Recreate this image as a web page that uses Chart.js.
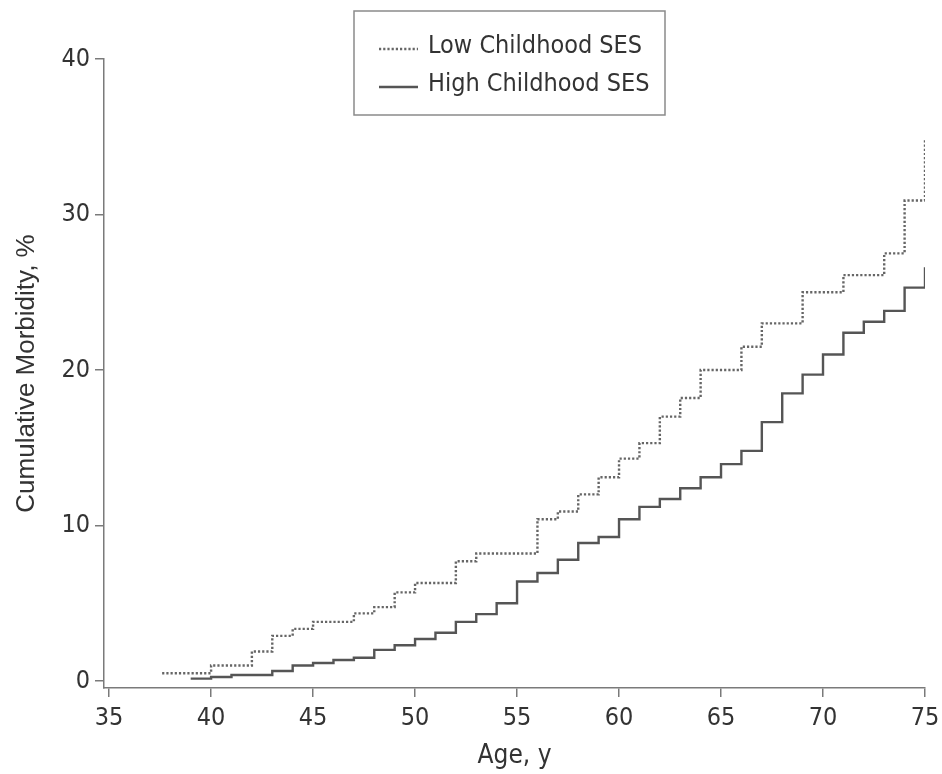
<!DOCTYPE html>
<html>
<head>
<meta charset="utf-8">
<script src="https://cdn.jsdelivr.net/npm/chart.js@4/dist/chart.umd.min.js"></script>
<style>
  html, body { margin: 0; padding: 0; background: #fff; }
  #wrap { width: 942px; height: 774px; }
</style>
</head>
<body>
<div id="wrap"><canvas id="c" width="942" height="774"></canvas></div>
<script>
// Data (age in years, cumulative morbidity in %)
const lowLabel = "Low Childhood SES";
const lowAges = [37.6, 40, 42, 43, 44, 45, 47, 48, 49, 50, 52, 53, 56, 57, 58, 59, 60, 61, 62, 63, 64, 66, 67, 69, 71, 73, 74, 75];
const lowValues = [0.5, 1.0, 1.9, 2.9, 3.35, 3.8, 4.35, 4.75, 5.7, 6.3, 7.7, 8.2, 10.4, 10.9, 12.0, 13.1, 14.3, 15.3, 17.0, 18.2, 20.0, 21.5, 23.0, 25.0, 26.1, 27.5, 30.9, 34.8];

const highLabel = "High Childhood SES";
const highAges = [39, 40, 41, 43, 44, 45, 46, 47, 48, 49, 50, 51, 52, 53, 54, 55, 56, 57, 58, 59, 60, 61, 62, 63, 64, 65, 66, 67, 68, 69, 70, 71, 72, 73, 74, 75];
const highValues = [0.15, 0.26, 0.39, 0.64, 1.0, 1.16, 1.35, 1.5, 2.0, 2.3, 2.7, 3.1, 3.8, 4.3, 5.0, 6.4, 6.95, 7.8, 8.87, 9.26, 10.4, 11.2, 11.7, 12.4, 13.1, 13.95, 14.8, 16.65, 18.5, 19.7, 21.0, 22.4, 23.1, 23.8, 25.3, 26.6];

const xTickValues = [35, 40, 45, 50, 55, 60, 65, 70, 75];
const yTickValues = [0, 10, 20, 30, 40];
const xTitle = "Age, y";
const yTitle = "Cumulative Morbidity, %";

const NARROW = "'DejaVu Sans Condensed', 'Liberation Sans Narrow', sans-serif";
const REGULAR = "'Liberation Sans', Arial, sans-serif";
const TEXT = '#333333';
const AXIS = '#7a7a7a';

const toPoints = (xs, ys) => xs.map((x, i) => ({ x: x, y: ys[i] }));

// Boxed legend drawn at the top centre, taken from the datasets
const boxLegend = {
  id: 'boxLegend',
  afterDraw(chart) {
    const ctx = chart.ctx;
    const box = { x: 354, y: 11, w: 311, h: 104 };
    ctx.save();
    ctx.fillStyle = '#fff';
    ctx.fillRect(box.x, box.y, box.w, box.h);
    ctx.strokeStyle = '#8a8a8a';
    ctx.lineWidth = 1.5;
    ctx.strokeRect(box.x, box.y, box.w, box.h);
    const rows = [46, 84];
    chart.data.datasets.forEach((ds, i) => {
      const y = rows[i];
      ctx.beginPath();
      ctx.strokeStyle = ds.borderColor;
      ctx.lineWidth = ds.borderWidth;
      ctx.setLineDash(ds.borderDash || []);
      ctx.moveTo(379, y + 3);
      ctx.lineTo(418, y + 3);
      ctx.stroke();
      ctx.setLineDash([]);
      ctx.fillStyle = TEXT;
      ctx.font = "25px " + NARROW;
      ctx.textBaseline = 'middle';
      ctx.textAlign = 'left';
      ctx.fillText(ds.label, 428, y);
    });
    ctx.restore();
  }
};

new Chart(document.getElementById('c'), {
  type: 'line',
  data: {
    datasets: [
      {
        label: lowLabel,
        data: toPoints(lowAges, lowValues),
        stepped: 'before',
        borderColor: '#666666',
        borderWidth: 2.4,
        borderDash: [2.2, 2],
        pointRadius: 0,
        fill: false
      },
      {
        label: highLabel,
        data: toPoints(highAges, highValues),
        stepped: 'before',
        borderColor: '#555555',
        borderWidth: 2.4,
        pointRadius: 0,
        fill: false
      }
    ]
  },
  options: {
    responsive: false,
    animation: false,
    layout: { padding: { left: 0, right: 17, top: 59, bottom: 0 } },
    plugins: {
      legend: { display: false },
      tooltip: { enabled: false }
    },
    scales: {
      x: {
        type: 'linear',
        min: 34.75,
        max: 75,
        afterBuildTicks: (s) => { s.ticks = xTickValues.map(v => ({ value: v })); },
        afterFit: (s) => { s.height = 86; s.paddingLeft = 0; s.paddingRight = 0; },
        border: { display: true, color: AXIS, width: 1.5 },
        grid: { drawOnChartArea: false, drawTicks: true, tickLength: 9, color: AXIS, lineWidth: 1.5 },
        ticks: { color: TEXT, font: { family: NARROW, size: 25 }, padding: 6, maxRotation: 0 },
        title: { display: true, text: xTitle, color: TEXT, font: { family: NARROW, size: 26 }, padding: { top: 0, bottom: 2 } }
      },
      y: {
        type: 'linear',
        min: -0.45,
        max: 40,
        afterBuildTicks: (s) => { s.ticks = yTickValues.map(v => ({ value: v })); },
        afterFit: (s) => { s.width = 104; s.paddingTop = 0; s.paddingBottom = 0; },
        border: { display: true, color: AXIS, width: 1.5 },
        grid: { drawOnChartArea: false, drawTicks: true, tickLength: 9, color: AXIS, lineWidth: 1.5 },
        ticks: { color: TEXT, font: { family: NARROW, size: 25 }, padding: 5 },
        title: { display: true, text: yTitle, color: TEXT, font: { family: REGULAR, size: 26 }, padding: { top: 11, bottom: 0 } }
      }
    }
  },
  plugins: [boxLegend]
});
</script>
</body>
</html>
